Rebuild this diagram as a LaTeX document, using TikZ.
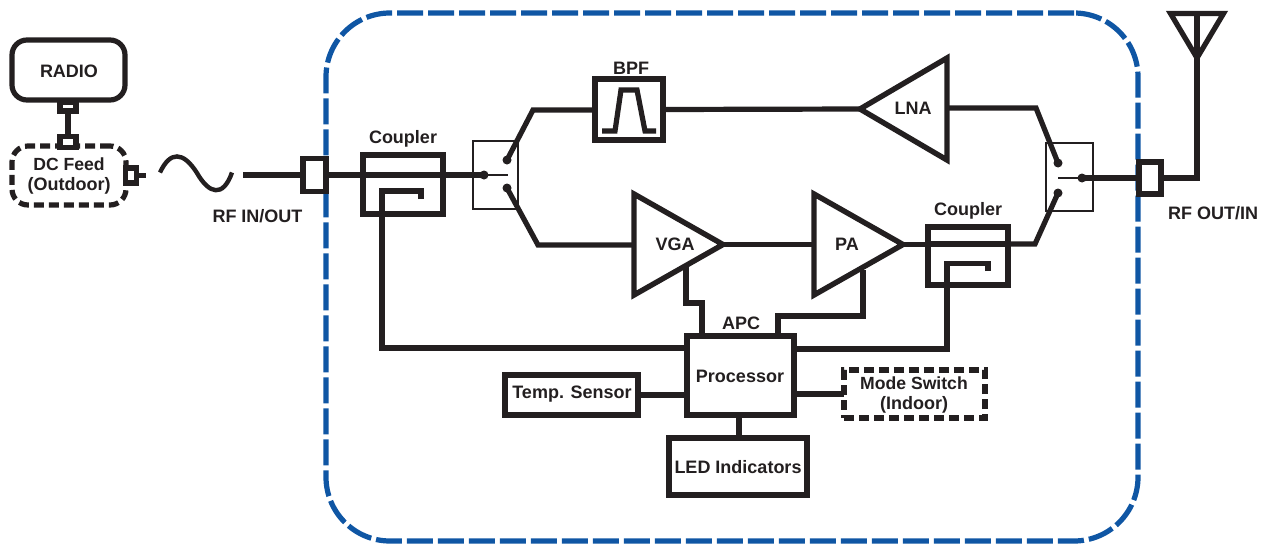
\documentclass[tikz,border=0pt]{standalone}
\usepackage{fontspec}
\setmainfont{Liberation Sans}
\usetikzlibrary{calc}
\definecolor{ink}{HTML}{231F20}
\definecolor{edge}{HTML}{0F56A4}
\tikzset{
  boxn/.style={draw=ink,line width=5.2pt,inner sep=0pt,outer sep=0pt,anchor=center,fill=white,align=center},
  dashn/.style={boxn,dash pattern=on 10pt off 5pt},
  thinbox/.style={draw=ink,line width=2.2pt,inner sep=0pt,outer sep=0pt,anchor=center},
  lab/.style={text=ink,font=\fontsize{18}{20}\selectfont\bfseries,inner sep=0pt,outer sep=0pt,anchor=center,align=center},
  wire/.style={draw=ink,line width=5.2pt,line join=miter,miter limit=10},
  thinwire/.style={draw=ink,line width=2.2pt},
  tri/.style={draw=ink,line width=5.4pt,line join=miter,miter limit=10,fill=white},
  dotn/.style={circle,fill=ink,minimum size=9pt,inner sep=0pt,outer sep=0pt},
}
\newcommand{\bx}[7][boxn]{\node[#1,minimum width=#4pt,minimum height=#5pt,#6] (#2) at (#3) {#7};}
\begin{document}
\begin{tikzpicture}[x=1pt,y=-1pt]
\useasboundingbox (0,0) rectangle (1268,544);
% enclosure
\node[draw=edge,line width=5.2pt,dash pattern=on 26pt off 5pt,rounded corners=64pt,minimum width=812pt,minimum height=528pt,inner sep=0pt,outer sep=0pt] (encl) at (732,277) {};

% coordinates of junctions
\coordinate (sw1c) at (484,175);
\coordinate (sw1cE) at (508,175);
\coordinate (sw1uk) at (533,110);
\coordinate (sw1lk) at (538,245);
\coordinate (sw2uk) at (1036,108);
\coordinate (sw2lk) at (1035,244);
\coordinate (sw2cW) at (1058,178);
\coordinate (antj) at (1197,178);
\coordinate (lnaT) at (947,58);
\coordinate (lnaB) at (947,160);
\coordinate (lnaL) at (860,109);
\coordinate (vgaT) at (634,194);
\coordinate (vgaB) at (634,295);
\coordinate (vgaR) at (723,244.5);
\coordinate (paT) at (814,194);
\coordinate (paB) at (814,295);
\coordinate (paR) at (903,244.5);

% RADIO chain
\node[boxn,rounded corners=15pt,minimum width=113pt,minimum height=60pt] (radio) at (68.5,70) {};
\node[lab] (radiot) at (69,71) {RADIO};
\bx{rp}{68,106.5}{16}{9}{}{}
\bx[dashn,rounded corners=16pt]{dc}{69,175.5}{114}{59}{}{}
\bx{dcp}{68,142}{16}{11}{}{}
\node[lab] (dct) at (69,175.5) {\fontsize{17.6}{21}\selectfont DC Feed\\(Outdoor)};
\draw[wire] (rp.south) -- (dcp.north);
\bx{dcr}{131,175.5}{11}{15}{}{}
\coordinate (dcs) at (146,175.5);
\draw[wire] (dcr.east) -- (dcs);

% sine
\coordinate (s0) at (160,172.5);
\coordinate (s1) at (197,173);
\coordinate (s2) at (232,172.5);
\draw[draw=ink,line width=4.4pt] (s0) .. controls (170,151) and (183,151) .. (s1) .. controls (209,194) and (223,198) .. (s2);
\coordinate (rfi) at (243,175);

% ports
\bx{p1}{314.5,175}{23}{33}{}{}
\bx{p2}{1150,178}{22}{32}{}{}
\draw[wire] (rfi) -- (p1.west);
\node[lab] (rfit) at (257.5,216) {RF IN/OUT};
\node[lab] (rfot) at (1213,213) {RF OUT/IN};

% switch boxes
\node[thinbox,minimum width=45pt,minimum height=68pt] (sw1) at (495.5,175) {};
\node[thinbox,minimum width=47pt,minimum height=68pt] (sw2) at (1069.5,177) {};

% couplers
\bx{c1}{403,184.5}{80}{59}{}{}
\bx{c2}{968,256}{80}{58}{}{}
\node[lab] (c1t) at (403,138.5) {Coupler};
\node[lab] (c2t) at (968,210.5) {Coupler};

% BPF
\bx{bpf}{629,109.5}{68}{61}{}{}
\node[lab] (bpft) at (631,68) {BPF};
\draw[wire] (602,131) -- (615,131) -- (621,90) -- (637,90) -- (645,131) -- (656,131);

% amplifiers
\draw[tri] (lnaT) -- (lnaB) -- (lnaL) -- cycle;
\draw[tri] (vgaT) -- (vgaB) -- (vgaR) -- cycle;
\draw[tri] (paT) -- (paB) -- (paR) -- cycle;
\node[lab] (lnat) at (913,108) {LNA};
\node[lab] (vgat) at (675,244) {VGA};
\node[lab] (pat) at (847,244) {PA};

% controller blocks
\bx{proc}{740.5,375.5}{107}{79}{}{}
\node[lab] (proct) at (740,376) {Processor};
\node[lab] (apct) at (741,323) {APC};
\bx{temp}{571.5,395}{133}{40}{}{}
\node[lab] (tempt) at (572,394) {Temp. Sensor};
\bx[dashn]{mode}{914.5,394}{141}{48}{}{}
\node[lab] (modet) at (914,394.5) {\fontsize{17.6}{20}\selectfont Mode Switch\\(Indoor)};
\bx{led}{738,466.5}{138}{57}{}{}
\node[lab] (ledt) at (738,467) {LED Indicators};

% dots
\node[dotn] (d1c) at (sw1c) {};
\node[dotn] (d1u) at (507,160) {};
\node[dotn] (d1l) at (507,188) {};
\node[dotn] (d2u) at (1058,163) {};
\node[dotn] (d2l) at (1058,193) {};
\node[dotn] (d2c) at (1082,178) {};

% RF path
\draw[wire] (p1.east) -- (d1c.center);
\draw[thinwire] (d1c.center) -- (sw1cE);
\draw[wire] (d1u.center) -- (sw1uk) -- (bpf.west |- sw1uk);
\draw[wire] (bpf.east) -- (lnaL);
\draw[wire] (d1l.center) -- (sw1lk) -- (vgaT |- sw1lk);
\draw[wire] (vgaR) -- (paT |- vgaR);
\draw[wire] (paR) -- (c2.west |- paR);
\draw[wire] (c2.west |- sw2lk) -- (sw2lk) -- (d2l.center);
\draw[wire] (lnaT |- sw2uk) -- (sw2uk) -- (d2u.center);
\draw[thinwire] (sw2cW) -- (d2c.center);
\draw[wire] (d2c.center) -- (p2.west);
\draw[wire] (p2.east) -- (antj) -- (1197,13);
\draw[wire] (1197,58) -- (1170.5,13.5) -- (1223.5,13.5) -- cycle;
% through lines of couplers
\draw[wire] (c2.west |- sw2lk) -- (c2.east |- sw2lk);

% coupler tails
\draw[wire] (421,199) -- (421,191) -- (382,191) -- (382,348) -- (proc.west |- 0,348);
\draw[wire] (988,271) -- (988,263.5) -- (947,263.5) -- (947,349) -- (proc.east |- 0,349);

% APC lines
\draw[wire] (686,267) -- (686,303) -- (702,303) -- (702,336);
\draw[wire] (863,270) -- (863,316) -- (778,316) -- (778,336);

% processor links
\draw[wire] (temp.east) -- (proc.west |- temp.east);
\draw[wire] (proc.east |- mode.west) -- (mode.west);
\draw[wire] (led.north -| 739,0) -- (proc.south -| 739,0);
\end{tikzpicture}
\end{document}
